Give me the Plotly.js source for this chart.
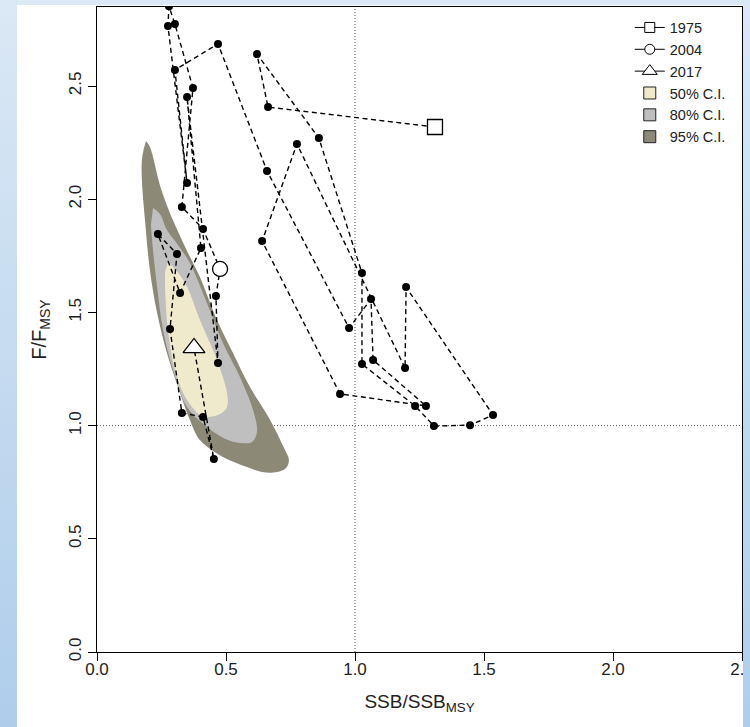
<!DOCTYPE html>
<html><head><meta charset="utf-8">
<script src="https://cdn.plot.ly/plotly-3.0.1.min.js"></script>
<style>
html,body{margin:0;padding:0;width:750px;height:727px;overflow:hidden;}
body{background:linear-gradient(to bottom,#dbe8f5 0%,#c4dbf0 50%,#afcdeb 100%);}
#chart{position:absolute;left:17px;top:5px;width:726px;height:722px;background:#fff;overflow:hidden;}
</style></head><body><div id="chart"></div>
<script>
// Trajectory 1975 -> 2017 (SSB/SSBmsy, F/Fmsy)
const ssb = [1.310,0.663,0.620,0.860,1.027,1.027,1.233,1.306,1.446,1.535,1.198,1.194,0.775,0.640,0.942,1.275,1.070,1.062,0.977,0.659,0.469,0.302,0.349,0.275,0.279,0.302,0.372,0.329,0.411,0.477,0.461,0.469,0.349,0.403,0.322,0.236,0.310,0.283,0.329,0.411,0.453,0.376];
const fRatio = [2.319,2.407,2.641,2.270,1.674,1.272,1.087,0.998,1.002,1.047,1.612,1.254,2.244,1.815,1.140,1.087,1.290,1.559,1.431,2.125,2.686,2.571,2.072,2.765,2.852,2.774,2.491,1.966,1.868,1.692,1.572,1.276,2.451,1.784,1.586,1.846,1.758,1.427,1.056,1.038,0.852,1.343];

// Highlighted years
const keyYears = ['1975','2004','2017'];
const keySSB = [1.310,0.477,0.376];
const keyF = [2.319,1.692,1.343];

// Confidence regions for the final year
const ci95x = [0.190,0.205,0.246,0.278,0.294,0.347,0.399,0.465,0.527,0.593,0.671,0.725,0.744,0.733,0.698,0.640,0.581,0.488,0.399,0.360,0.322,0.271,0.233,0.205,0.186,0.174,0.174,0.182];
const ci95y = [2.257,2.231,2.054,1.952,1.908,1.776,1.656,1.466,1.321,1.170,1.025,0.901,0.848,0.813,0.795,0.795,0.817,0.861,0.936,1.025,1.144,1.321,1.497,1.687,1.908,2.085,2.173,2.226];
const ci80x = [0.217,0.244,0.271,0.314,0.360,0.426,0.488,0.554,0.605,0.620,0.601,0.554,0.508,0.426,0.349,0.295,0.256,0.233,0.217,0.209];
const ci80y = [1.961,1.935,1.864,1.798,1.718,1.542,1.365,1.215,1.069,0.972,0.928,0.923,0.936,0.994,1.082,1.246,1.422,1.612,1.776,1.886];
const ci50x = [0.275,0.306,0.349,0.399,0.465,0.504,0.504,0.477,0.426,0.399,0.349,0.302,0.275,0.264,0.264];
const ci50y = [1.723,1.687,1.612,1.466,1.290,1.144,1.082,1.051,1.038,1.047,1.113,1.246,1.422,1.612,1.678];
const ciLabels = ['50% C.I.','80% C.I.','95% C.I.'];

// Axis ticks
const xTicks = [0,0.5,1,1.5,2,2.5];
const xTickText = ['0.0','0.5','1.0','1.5','2.0','2.5'];
const yTicks = [0,0.5,1,1.5,2,2.5];
const yTickText = ['0.0','0.5','1.0','1.5','2.0','2.5'];
const refValue = 1;

// ---- styles ----
const FONT = 'Liberation Sans, Arial, Helvetica, sans-serif';
const ciColors = ['#f0eacd','#bfbfbf','#8c8976'];
const keySymbols = ['square','circle','triangle-up'];
const keySizes = [15,15,19];
const legSizes = [10,10,13];

const traces = [];
const ciX = [ci50x, ci80x, ci95x];
const ciY = [ci50y, ci80y, ci95y];
for (let k = 2; k >= 0; k--) {
  traces.push({x: ciX[k], y: ciY[k], type:'scatter', mode:'lines', fill:'toself',
    fillcolor: ciColors[k], line:{width:0, shape:'spline', smoothing:1, color:ciColors[k]},
    showlegend:false, hoverinfo:'skip'});
}
traces.push({x: ssb, y: fRatio, type:'scatter', mode:'lines+markers',
  line:{color:'#000', width:1.4, dash:'5px,3.5px'},
  marker:{color:'#000', size:8}, showlegend:false, cliponaxis:true});
for (let k = 0; k < keyYears.length; k++) {
  traces.push({x:[keySSB[k]], y:[keyF[k]], type:'scatter', mode:'markers', showlegend:false,
    marker:{symbol:keySymbols[k], size:keySizes[k], color:'#fff', line:{color:'#000', width:1.3}}});
}
for (let k = 0; k < keyYears.length; k++) {
  traces.push({x:[null], y:[null], type:'scatter', mode:'lines+markers', name:keyYears[k],
    line:{color:'#000', width:1},
    marker:{symbol:keySymbols[k], size:legSizes[k], color:'#fff', line:{color:'#000', width:1}}});
}
for (let k = 0; k < ciLabels.length; k++) {
  traces.push({x:[null], y:[null], type:'scatter', mode:'markers', name:ciLabels[k],
    marker:{symbol:'square', size:12, color:ciColors[k], line:{color:'#222', width:1}}});
}

const layout = {
  width:726, height:722,
  margin:{l:80, r:1, t:2, b:75},
  paper_bgcolor:'#fff', plot_bgcolor:'#fff',
  font:{family:FONT, color:'#222', size:17},
  showlegend:true,
  legend:{x:0.826, y:0.993, xanchor:'left', yanchor:'top', bgcolor:'rgba(0,0,0,0)',
    font:{family:FONT, size:14.5, color:'#222'}, tracegroupgap:0},
  xaxis:{range:[0,2.5], tickvals:xTicks, ticktext:xTickText, showgrid:false, zeroline:false,
    showline:true, mirror:true, linecolor:'#000', linewidth:1, ticks:'outside', ticklen:8,
    tickcolor:'#000', tickfont:{size:17, color:'#222'}, ticklabeloverflow:'allow',
    ticklabelstandoff:-6,
    title:{text:'SSB/SSB<sub>MSY</sub>', font:{size:19, color:'#222'}, standoff:16}},
  yaxis:{range:[0,2.849], tickvals:yTicks, ticktext:yTickText, showgrid:false, zeroline:false,
    showline:true, mirror:true, linecolor:'#000', linewidth:1, ticks:'outside', ticklen:8,
    tickcolor:'#000', tickangle:-90, tickfont:{size:17, color:'#222'},
    title:{text:'F/F<sub>MSY</sub>', font:{size:20, color:'#222'}, standoff:14}},
  shapes:[
    {type:'line', xref:'x', yref:'paper', x0:refValue, x1:refValue, y0:0, y1:1, layer:'below',
      line:{color:'#555', width:1, dash:'1px,2px'}},
    {type:'line', xref:'paper', yref:'y', x0:0, x1:1, y0:refValue, y1:refValue, layer:'below',
      line:{color:'#555', width:1, dash:'1px,2px'}}
  ]
};
Plotly.newPlot('chart', traces, layout, {displayModeBar:false, staticPlot:true});
</script></body></html>
